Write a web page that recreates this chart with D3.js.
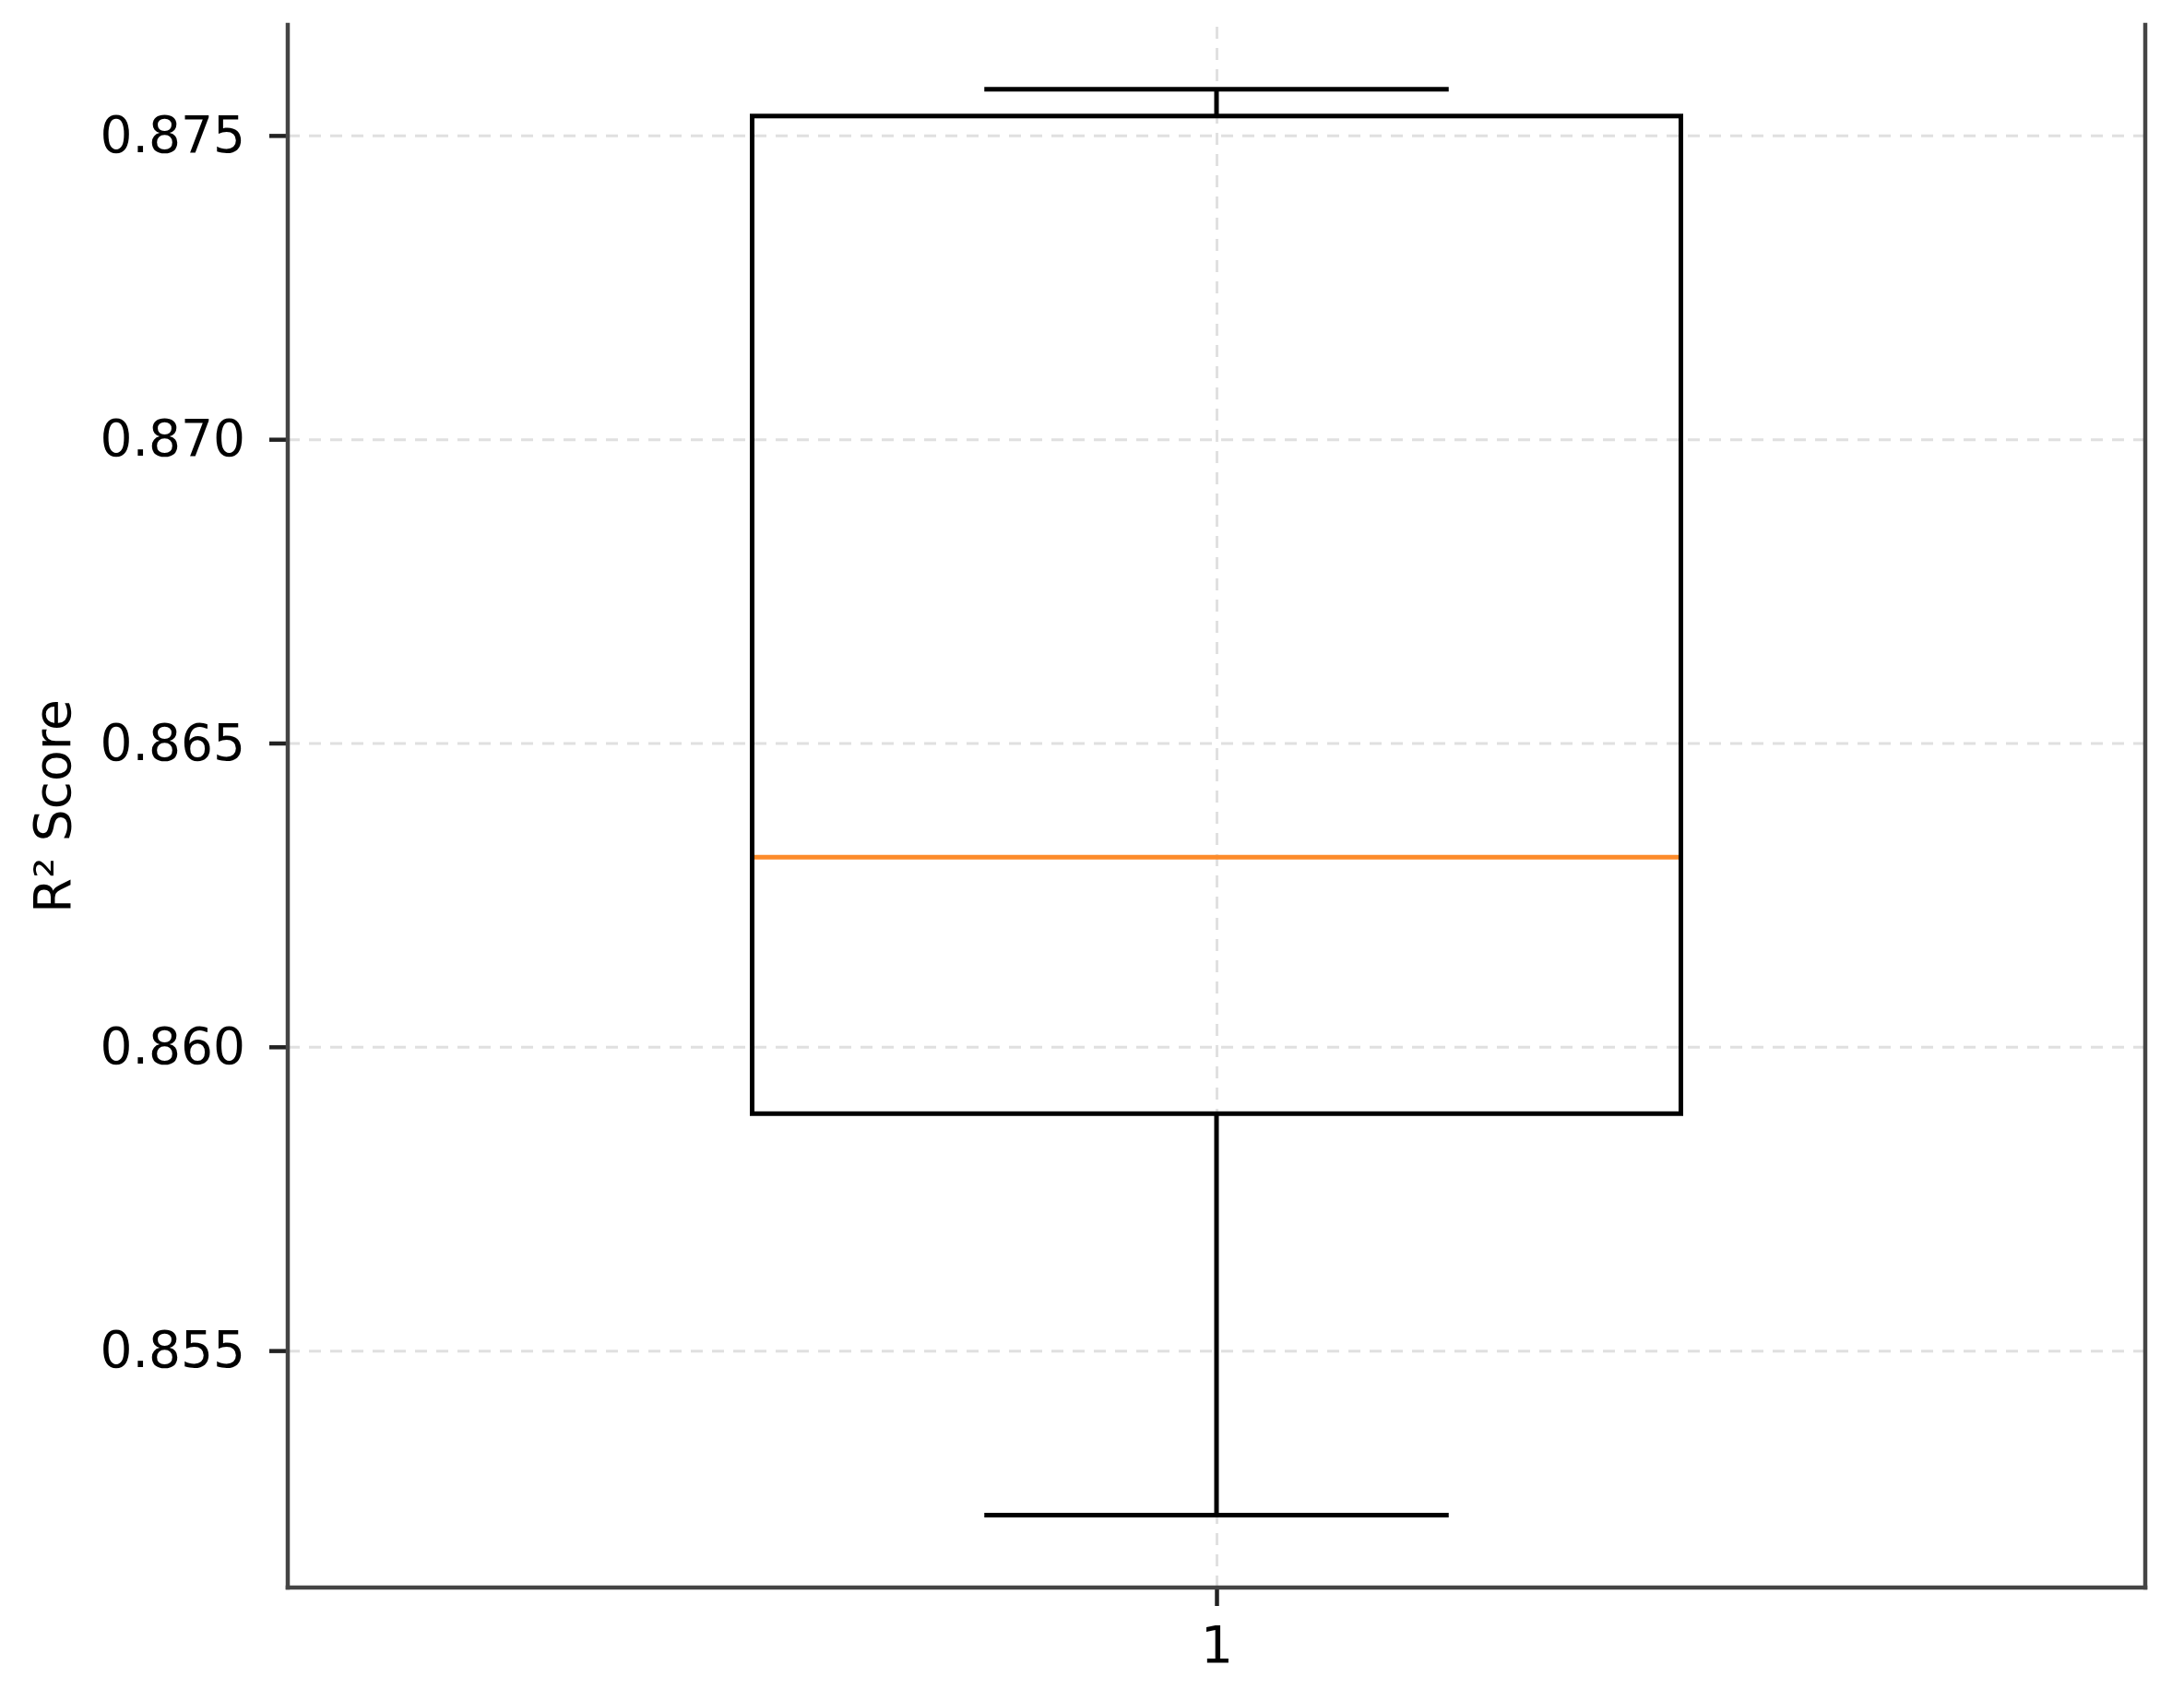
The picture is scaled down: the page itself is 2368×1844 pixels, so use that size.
<!DOCTYPE html>
<html>
<head>
<meta charset="utf-8">
<script src="https://cdn.jsdelivr.net/npm/d3@7"></script>
<style>
  body { margin: 0; background: #fff; }
  text { font-family: "DejaVu Sans", sans-serif; fill: #000; }
</style>
</head>
<body>
<div id="chart"></div>
<script>
// box stats
var categories = ["1"];
var whiskerLow = [0.85229];
var q1 = [0.85890];
var median = [0.86312];
var q3 = [0.87532];
var whiskerHigh = [0.87576];
var yTicks = [0.855, 0.860, 0.865, 0.870, 0.875];
var yLabel = "R\u00b2 Score";

var W = 2368, H = 1844;
// plot area edges (window.top is read-only, so no bare "top")
var axLeft = 312, axRight = 2326, axTop = 27, axBottom = 1721;
var fontSize = 55;

var svg = d3.select("#chart").append("svg")
  .attr("width", W)
  .attr("height", H);

svg.append("rect").attr("width", W).attr("height", H).attr("fill", "#fff");

var x = d3.scaleLinear().domain([0.5, 1.5]).range([axLeft, axRight]);
var y = d3.scaleLinear().domain([0.85110, 0.87682]).range([axBottom, axTop]);

var pos = function(i) { return i + 1; };
var xTicks = categories.map(function(d, i){ return pos(i); });

// grid
var gridY = svg.append("g")
  .attr("transform", "translate(" + axLeft + ",0)")
  .call(d3.axisLeft(y).tickValues(yTicks).tickSize(-(axRight - axLeft)).tickFormat(""));
var gridX = svg.append("g")
  .attr("transform", "translate(0," + axBottom + ")")
  .call(d3.axisBottom(x).tickValues(xTicks).tickSize(-(axBottom - axTop)).tickFormat(""));
[gridY, gridX].forEach(function(g){
  g.select(".domain").remove();
  g.selectAll("line")
    .attr("stroke", "#e0e0e0")
    .attr("stroke-width", 3)
    .attr("stroke-dasharray", "13,10");
});

// boxes
var boxW = 0.5, capW = 0.25;
categories.forEach(function(c, i) {
  var cx = pos(i);
  var g = svg.append("g").attr("stroke", "#000").attr("stroke-width", 5).attr("fill", "none");
  // whiskers
  g.append("line").attr("x1", x(cx)).attr("x2", x(cx)).attr("y1", y(q1[i])).attr("y2", y(whiskerLow[i]));
  g.append("line").attr("x1", x(cx)).attr("x2", x(cx)).attr("y1", y(q3[i])).attr("y2", y(whiskerHigh[i]));
  // caps
  g.append("line").attr("x1", x(cx - capW / 2)).attr("x2", x(cx + capW / 2)).attr("y1", y(whiskerLow[i])).attr("y2", y(whiskerLow[i]));
  g.append("line").attr("x1", x(cx - capW / 2)).attr("x2", x(cx + capW / 2)).attr("y1", y(whiskerHigh[i])).attr("y2", y(whiskerHigh[i]));
  // box
  g.append("rect")
    .attr("x", x(cx - boxW / 2))
    .attr("y", y(q3[i]))
    .attr("width", x(cx + boxW / 2) - x(cx - boxW / 2))
    .attr("height", y(q1[i]) - y(q3[i]));
  // median
  svg.append("line")
    .attr("x1", x(cx - boxW / 2) + 2.5).attr("x2", x(cx + boxW / 2) - 2.5)
    .attr("y1", y(median[i])).attr("y2", y(median[i]))
    .attr("stroke", "#fd8b2a").attr("stroke-width", 5);
});

// axes
var yAxis = svg.append("g")
  .attr("transform", "translate(" + axLeft + ",0)")
  .call(d3.axisLeft(y).tickValues(yTicks).tickFormat(d3.format(".3f")).tickSize(20).tickPadding(26));
var xAxis = svg.append("g")
  .attr("transform", "translate(0," + axBottom + ")")
  .call(d3.axisBottom(x).tickValues(xTicks)
    .tickFormat(function(d, i){ return categories[i]; }).tickSize(20).tickPadding(22));
[yAxis, xAxis].forEach(function(g){
  g.select(".domain").remove();
  g.selectAll(".tick line").attr("stroke", "#222").attr("stroke-width", 4.5);
  g.selectAll(".tick text").attr("font-size", fontSize).attr("font-family", "DejaVu Sans").attr("fill", "#000");
});

// spines (no top)
var spines = svg.append("g").attr("stroke", "#444").attr("stroke-width", 4.5).attr("stroke-linecap", "square");
spines.append("line").attr("x1", axLeft).attr("x2", axLeft).attr("y1", axTop).attr("y2", axBottom);
spines.append("line").attr("x1", axRight).attr("x2", axRight).attr("y1", axTop).attr("y2", axBottom);
spines.append("line").attr("x1", axLeft).attr("x2", axRight).attr("y1", axBottom).attr("y2", axBottom);

// y label
svg.append("text")
  .attr("transform", "translate(76," + ((axTop + axBottom) / 2) + ") rotate(-90)")
  .attr("text-anchor", "middle")
  .attr("font-size", fontSize)
  .text(yLabel);
</script>
</body>
</html>
